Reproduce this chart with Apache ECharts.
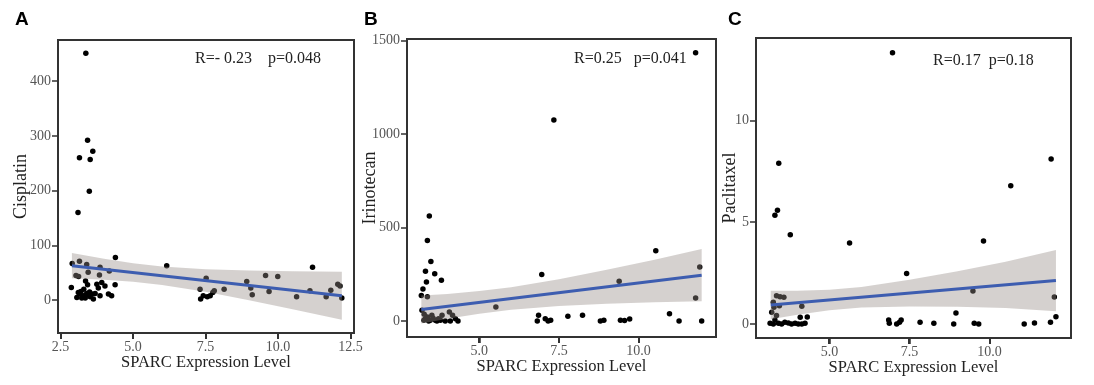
<!DOCTYPE html>
<html><head><meta charset="utf-8">
<script src="https://cdn.jsdelivr.net/npm/echarts@6/dist/echarts.min.js"></script>
<style>html,body{margin:0;padding:0;background:#fff}#c{width:1094px;height:385px}</style>
</head><body><div id="c"></div>
<script>
// ---- Panel A: Cisplatin ----
const cisX = [3.37,3.43,3.15,3.52,3.61,3.49,3.10,2.90,3.15,3.40,4.39,6.16,11.19,3.03,3.12,3.45,3.86,3.84,4.18,4.38,2.87,3.36,3.43,3.75,3.92,4.03,3.80,4.15,4.26,3.69,3.86,3.63,3.06,3.17,3.29,3.40,3.52,3.23,3.35,3.46,3.11,3.58,3.20,3.30,3.50,7.31,7.33,7.42,7.52,7.56,7.66,7.75,7.80,8.14,8.92,9.06,9.11,9.57,9.69,9.99,10.64,11.10,11.66,11.82,12.06,12.14,12.20];
const cisY = [451,292,260,257,272,199,160,67,71,65,78,63,60,45,43,51,60,46,53,28,23,35,28,29,32,26,22,11,8,12,8,2,5,11,8,12,6,4,4,10,14,11,16,20,15,20,2,8,40,6,8,14,17,20,34,22,10,45,16,43,6,17,6,18,29,26,4];
const cisFitX = [2.89,12.2];
const cisFitY = [63,8];
const cisBandX = [2.89,4,5,6,7.5,9,10.5,12.2];
const cisBandHi = [86,75.4,67.5,61.6,56.4,53.9,52.6,52];
const cisBandLo = [40,37.4,33.5,27.6,15.2,-0.1,-16.6,-36];

// ---- Panel B: Irinotecan ----
const iriX = [11.79,7.34,3.43,3.37,3.48,3.31,3.60,3.34,3.81,3.23,3.18,3.37,6.96,10.54,9.39,11.92,11.79,5.52,3.20,6.86,7.07,7.16,7.24,6.82,7.78,8.24,8.80,8.91,9.43,9.56,9.72,10.97,11.27,11.98,3.27,3.37,3.51,3.62,3.72,3.83,3.93,4.09,4.06,4.16,4.25,4.33,3.26,3.41,3.46,3.67,3.78,3.55,3.30];
const iriY = [1436,1075,562,430,318,266,252,209,218,171,136,130,248,375,212,288,123,75,57,30,12,0,4,0,25,30,0,4,4,2,11,39,0,0,36,21,30,4,12,30,0,0,48,30,12,0,4,0,4,0,4,15,10];
const iriFitX = [3.18,11.98];
const iriFitY = [61,245];
const iriBandX = [3.18,4,5,6,7.5,9,10.5,11.98];
const iriBandHi = [136,144.7,159.6,180.5,222.7,273.4,327.7,385];
const iriBandLo = [-14,11.5,38.4,59.3,79.9,91.8,100.3,105];

// ---- Panel C: Paclitaxel ----
const pacX = [6.97,3.42,11.92,10.66,3.38,3.30,3.78,5.63,9.81,7.41,9.48,12.02,8.95,12.07,4.31,4.14,3.35,3.46,3.58,3.44,3.25,3.20,3.27,3.35,3.30,3.15,3.25,3.41,3.51,3.61,3.72,3.82,3.93,4.03,4.14,4.24,4.09,6.85,6.87,7.10,7.19,7.24,7.83,8.26,8.88,9.52,9.66,11.08,11.40,11.90];
const pacY = [13.33,7.89,8.11,6.79,5.59,5.34,4.38,3.98,4.08,2.48,1.62,1.33,0.54,0.36,0.34,0.87,1.39,1.34,1.31,0.90,1.07,0.57,0.82,0.41,0.20,0.03,0,0.03,0,0.08,0.05,0,0.03,0,0,0.03,0.33,0.20,0.03,0,0.08,0.20,0.08,0.03,0,0.03,0,0,0.05,0.08];
const pacFitX = [3.17,12.07];
const pacFitY = [0.93,2.13];
const pacBandX = [3.17,4,5,6,7.5,9,10.5,12.07];
const pacBandHi = [1.63,1.627,1.676,1.81,2.167,2.589,3.053,3.63];
const pacBandLo = [0.23,0.457,0.678,0.812,0.861,0.843,0.783,0.63];

// ---- ticks ----
const cisXTicks = [2.5,5,7.5,10,12.5];
const cisYTicks = [0,100,200,300,400];
const iriXTicks = [5,7.5,10];
const iriYTicks = [0,500,1000,1500];
const pacXTicks = [5,7.5,10];
const pacYTicks = [0,5,10];

const zip = (a,b) => a.map((v,i)=>[v,b[i]]);
const SERIF = '"Liberation Serif","Times New Roman",serif';

const grids = [
  {left:58, top:40, width:296, height:293},
  {left:407, top:39, width:309, height:298},
  {left:756, top:38, width:315, height:300}
];
const xr = [[2.41,12.62],[2.73,12.43],[2.71,12.54]];
const yr = [[-60,475],[-86,1509],[-0.69,14.05]];
const xt = [cisXTicks, iriXTicks, pacXTicks];
const yt = [cisYTicks, iriYTicks, pacYTicks];
const yNames = ['Cisplatin','Irinotecan','Paclitaxel'];
const yGaps = [28,28,17];

const tickStyle = {show:true, inside:false, length:6, lineStyle:{color:'#333', width:1.5}};
const lineStyleAxis = {show:true, onZero:false, lineStyle:{color:'#333', width:2}};
const labelStyle = {color:'#555', fontFamily:SERIF, fontSize:14};

const xAxis = grids.map((g,i)=>({
  type:'value', gridIndex:i, position:'bottom', min:xr[i][0], max:xr[i][1],
  axisLine:lineStyleAxis, splitLine:{show:false},
  axisTick:Object.assign({customValues:xt[i]}, tickStyle),
  axisLabel:Object.assign({customValues:xt[i], margin:7, formatter:v=>v.toFixed(1)}, labelStyle),
  name:'SPARC Expression Level', nameLocation:'middle', nameGap:21, nameMoveOverlap:false,
  nameTextStyle:{color:'#222', fontFamily:SERIF, fontSize:16.5}
}));
const yAxis = grids.map((g,i)=>({
  type:'value', gridIndex:i, position:'left', min:yr[i][0], max:yr[i][1],
  axisLine:lineStyleAxis, splitLine:{show:false},
  axisTick:Object.assign({customValues:yt[i]}, tickStyle),
  axisLabel:Object.assign({customValues:yt[i], margin:7, formatter:v=>String(v)}, labelStyle),
  name:yNames[i], nameLocation:'middle', nameGap:yGaps[i], nameMoveOverlap:false,
  nameTextStyle:{color:'#222', fontFamily:SERIF, fontSize:18}
}));

function bandSeries(idx, bx, hi, lo){
  return {
    type:'custom', xAxisIndex:idx, yAxisIndex:idx, z:3, silent:true,
    data:[0],
    renderItem:(params, api)=>{
      const pts = [];
      for (let i=0;i<bx.length;i++) pts.push(api.coord([bx[i], hi[i]]));
      for (let i=bx.length-1;i>=0;i--) pts.push(api.coord([bx[i], lo[i]]));
      return {type:'polygon', shape:{points:pts}, style:{fill:'rgba(150,140,136,0.4)'}};
    }
  };
}
function scatterSeries(idx, xs, ys){
  return {type:'scatter', xAxisIndex:idx, yAxisIndex:idx, z:2, symbolSize:5.5,
    itemStyle:{color:'#000', opacity:1}, data:zip(xs,ys), silent:true};
}
function fitSeries(idx, xs, ys){
  return {type:'line', xAxisIndex:idx, yAxisIndex:idx, z:4, symbol:'none',
    lineStyle:{color:'#3d5db0', width:3}, data:zip(xs,ys), silent:true};
}

const series = [
  scatterSeries(0, cisX, cisY), bandSeries(0, cisBandX, cisBandHi, cisBandLo), fitSeries(0, cisFitX, cisFitY),
  scatterSeries(1, iriX, iriY), bandSeries(1, iriBandX, iriBandHi, iriBandLo), fitSeries(1, iriFitX, iriFitY),
  scatterSeries(2, pacX, pacY), bandSeries(2, pacBandX, pacBandHi, pacBandLo), fitSeries(2, pacFitX, pacFitY)
];

const letterStyle = {fill:'#000', font:'bold 19px "Liberation Sans", Arial, sans-serif'};
const annStyle = {fill:'#222', font:'16px "Liberation Serif","Times New Roman",serif'};
const graphic = [
  {type:'text', left:15, top:10, style:Object.assign({text:'A'}, letterStyle)},
  {type:'text', left:364, top:10, style:Object.assign({text:'B'}, letterStyle)},
  {type:'text', left:728, top:10, style:Object.assign({text:'C'}, letterStyle)},
  {type:'text', left:195, top:51, style:Object.assign({text:'R=- 0.23    p=0.048'}, annStyle)},
  {type:'text', left:574, top:51, style:Object.assign({text:'R=0.25   p=0.041'}, annStyle)},
  {type:'text', left:933, top:53, style:Object.assign({text:'R=0.17  p=0.18'}, annStyle)}
];

const chart = echarts.init(document.getElementById('c'), null, {renderer:'canvas'});
chart.setOption({
  animation:false,
  backgroundColor:'#fff',
  grid: grids.map(g=>Object.assign({show:true, borderColor:'#333', borderWidth:2, backgroundColor:'transparent', containLabel:false}, g)),
  xAxis, yAxis, series, graphic
});

// outward x tick marks, positioned through the axis scales
const tickGraphics = [];
xt.forEach((vals, idx)=>{
  vals.forEach(v=>{
    const p = chart.convertToPixel({xAxisIndex:idx, yAxisIndex:idx}, [v, yr[idx][0]]);
    const x = Math.round(p[0]);
    tickGraphics.push({type:'rect', z:100, silent:true,
      shape:{x:x-1, y:p[1], width:2, height:6},
      style:{fill:'#333'}});
  });
});
chart.setOption({graphic: graphic.concat(tickGraphics)});
</script></body></html>
